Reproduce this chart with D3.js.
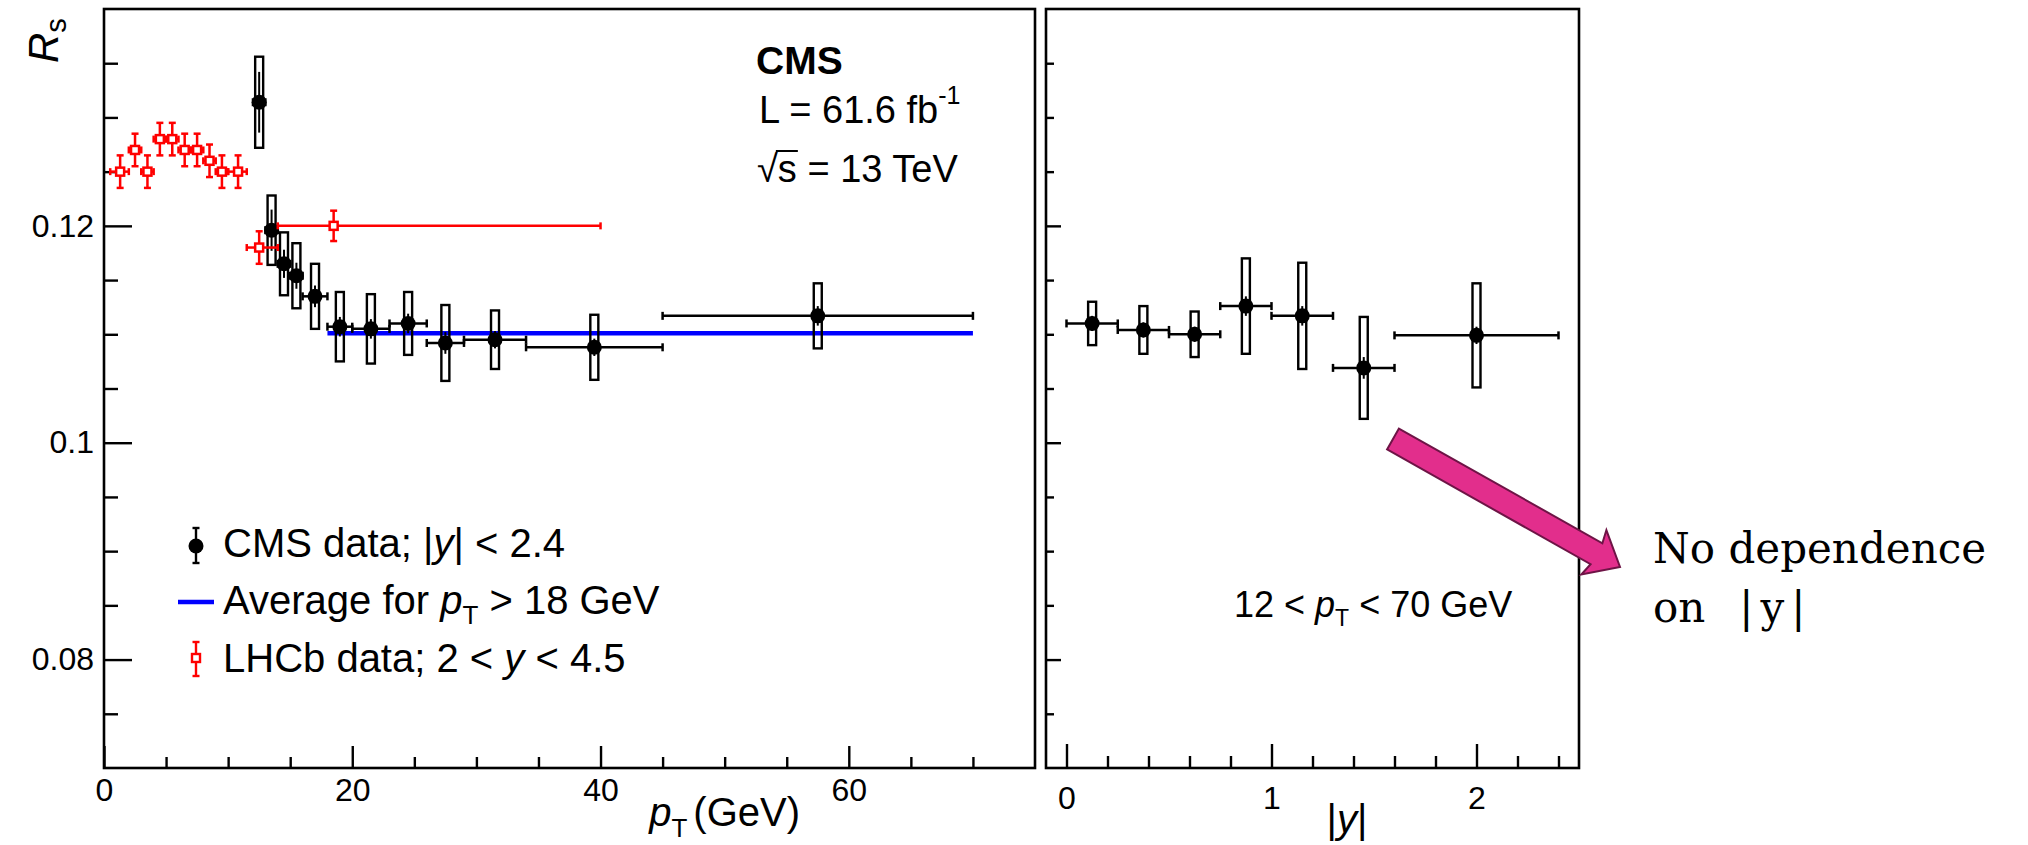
<!DOCTYPE html>
<html>
<head>
<meta charset="utf-8">
<script src="https://cdn.jsdelivr.net/npm/d3@7"></script>
<style>
    body { margin: 0; background: #fff; }
    text { font-family: "Liberation Sans", Arial, Helvetica, sans-serif; fill: #000; }
</style>
</head>
<body>
<div id="chart"></div>
<script>
/* * * * * * * * * * * * * *
*      Rs vs pT and |y|     *
* * * * * * * * * * * * * */

// CMS data vs pT
const cmsPt     = [12.5, 13.5, 14.5, 15.5, 17, 19, 21.5, 24.5, 27.5, 31.5, 39.5, 57.5];
const cmsPtLo   = [12, 13, 14, 15, 16, 18, 20, 23, 26, 29, 34, 45];
const cmsPtHi   = [13, 14, 15, 16, 18, 20, 23, 26, 29, 34, 45, 70];
const cmsPtRs   = [0.1314, 0.1196, 0.1165, 0.1154, 0.1135, 0.1107, 0.1105, 0.1110, 0.1092, 0.1095, 0.1088, 0.1117];
const cmsPtStat = [0.0028, 0.0019, 0.0013, 0.0012, 0.0010, 0.0009, 0.0009, 0.0009, 0.0010, 0.0008, 0.0008, 0.0009];
const cmsPtSyst = [0.0042, 0.0032, 0.0029, 0.0030, 0.0030, 0.0032, 0.0032, 0.0029, 0.0035, 0.0027, 0.0030, 0.0030];

// LHCb data vs pT
const lhcbPt   = [1.3, 2.5, 3.5, 4.5, 5.5, 6.5, 7.5, 8.5, 9.5, 10.8, 12.5, 18.5];
const lhcbPtLo = [0.5, 2, 3, 4, 5, 6, 7, 8, 9, 10, 11.5, 14];
const lhcbPtHi = [2, 3, 4, 5, 6, 7, 8, 9, 10, 11.5, 14, 40];
const lhcbRs   = [0.125, 0.127, 0.125, 0.128, 0.128, 0.127, 0.127, 0.126, 0.125, 0.125, 0.118, 0.120];
const lhcbErr  = [0.0015, 0.0015, 0.0015, 0.0015, 0.0015, 0.0015, 0.0015, 0.0015, 0.0015, 0.0015, 0.0015, 0.0014];

// average for pT > 18 GeV
const avgRs = 0.1101;
const avgPtRange = [18, 70];

// CMS data vs |y|
const cmsY     = [0.125, 0.375, 0.625, 0.875, 1.15, 1.45, 2.0];
const cmsYLo   = [0, 0.25, 0.5, 0.75, 1.0, 1.3, 1.6];
const cmsYHi   = [0.25, 0.5, 0.75, 1.0, 1.3, 1.6, 2.4];
const cmsYRs   = [0.1110, 0.1104, 0.1100, 0.1126, 0.1117, 0.1069, 0.1099];
const cmsYStat = [0.0007, 0.0007, 0.0007, 0.0009, 0.0009, 0.0010, 0.0008];
const cmsYSyst = [0.0020, 0.0022, 0.0021, 0.0044, 0.0049, 0.0047, 0.0048];

// ticks
const yMajor = [0.08, 0.10, 0.12];
const yMajorLabels = ["0.08", "0.1", "0.12"];
const yMinor = [0.075, 0.085, 0.09, 0.095, 0.105, 0.11, 0.115, 0.125, 0.13, 0.135];
const ptMajor = [0, 20, 40, 60];
const ptMinor = [5, 10, 15, 25, 30, 35, 45, 50, 55, 65, 70];
const absYMajor = [0, 1, 2];
const absYMinor = [0.2, 0.4, 0.6, 0.8, 1.2, 1.4, 1.6, 1.8, 2.2, 2.4];

// init drawing area
const svg = d3.select("#chart").append("svg")
    .attr("width", 2028)
    .attr("height", 845);

// scales
const y = d3.scaleLinear().domain([0.07, 0.14]).range([768, 9]);
const xPt = d3.scaleLinear().domain([0, 75]).range([104, 1035]);
const xAbsY = d3.scaleLinear().domain([-0.1, 2.5]).range([1046, 1579]);

const red = "#ff0000", blue = "#0000ff";

// axes for one panel
function drawAxes(x, o) {
    let g = svg.append("g").attr("class", "axes");
    let bottom = y.range()[0], left = x.range()[0];

    let styleAxis = sel => {
        sel.select(".domain").remove();
        sel.selectAll("line").attr("stroke", "#000").attr("stroke-width", 2.4);
        sel.attr("font-family", "Liberation Sans, Arial, sans-serif").attr("font-size", 32);
        sel.selectAll("text").attr("fill", "#000");
    };

    g.append("g").attr("transform", `translate(0,${bottom})`)
        .call(d3.axisBottom(x).tickValues(o.xMinor).tickSize(-o.xMinorLen).tickSizeOuter(0).tickFormat(""))
        .call(styleAxis);
    g.append("g").attr("transform", `translate(0,${bottom})`)
        .call(d3.axisBottom(x).tickValues(o.xMajor).tickSize(-o.xMajorLen).tickSizeOuter(0)
            .tickPadding(o.xPad).tickFormat(d3.format("d")))
        .call(styleAxis);

    g.append("g").attr("transform", `translate(${left},0)`)
        .call(d3.axisLeft(y).tickValues(yMinor).tickSize(-o.yMinorLen).tickSizeOuter(0).tickFormat(""))
        .call(styleAxis);
    g.append("g").attr("transform", `translate(${left},0)`)
        .call(d3.axisLeft(y).tickValues(yMajor).tickSize(-o.yMajorLen).tickSizeOuter(0).tickPadding(10)
            .tickFormat((d, i) => o.yLabels ? yMajorLabels[i] : ""))
        .call(styleAxis);

    // frame
    g.append("rect")
        .attr("x", left).attr("y", y.range()[1])
        .attr("width", x.range()[1] - left)
        .attr("height", bottom - y.range()[1])
        .attr("fill", "none").attr("stroke", "#000").attr("stroke-width", 2.6);
}

drawAxes(xPt, {xMajor: ptMajor, xMinor: ptMinor, xMajorLen: 22, xMinorLen: 11, xPad: 10,
    yMajorLen: 28, yMinorLen: 14, yLabels: true});
drawAxes(xAbsY, {xMajor: absYMajor, xMinor: absYMinor, xMajorLen: 24, xMinorLen: 12, xPad: 18,
    yMajorLen: 15, yMinorLen: 8, yLabels: false});

// CMS points with syst boxes
function drawCms(x, c, lo, hi, v, stat, syst) {
    let g = svg.append("g").attr("class", "cms");
    let pts = c.map((d, i) => ({c: d, lo: lo[i], hi: hi[i], v: v[i], stat: stat[i], syst: syst[i]}));
    let p = g.selectAll("g").data(pts).enter().append("g");

    p.append("rect")
        .attr("x", d => x(d.c) - 4).attr("width", 8)
        .attr("y", d => y(d.v + d.syst))
        .attr("height", d => y(d.v - d.syst) - y(d.v + d.syst))
        .attr("fill", "none").attr("stroke", "#000").attr("stroke-width", 2.4);
    p.append("line")
        .attr("x1", d => x(d.lo)).attr("x2", d => x(d.hi))
        .attr("y1", d => y(d.v)).attr("y2", d => y(d.v))
        .attr("stroke", "#000").attr("stroke-width", 2.5);
    ["lo", "hi"].forEach(k => {
        p.append("line")
            .attr("x1", d => x(d[k])).attr("x2", d => x(d[k]))
            .attr("y1", d => y(d.v) - 4).attr("y2", d => y(d.v) + 4)
            .attr("stroke", "#000").attr("stroke-width", 2.5);
    });
    p.append("line")
        .attr("x1", d => x(d.c)).attr("x2", d => x(d.c))
        .attr("y1", d => y(d.v + d.stat)).attr("y2", d => y(d.v - d.stat))
        .attr("stroke", "#000").attr("stroke-width", 2);
    p.append("circle")
        .attr("cx", d => x(d.c)).attr("cy", d => y(d.v)).attr("r", 7.5)
        .attr("fill", "#000");
}

// average line
svg.append("line")
    .attr("x1", xPt(avgPtRange[0])).attr("x2", xPt(avgPtRange[1]))
    .attr("y1", y(avgRs)).attr("y2", y(avgRs))
    .attr("stroke", blue).attr("stroke-width", 4.5);

drawCms(xPt, cmsPt, cmsPtLo, cmsPtHi, cmsPtRs, cmsPtStat, cmsPtSyst);
drawCms(xAbsY, cmsY, cmsYLo, cmsYHi, cmsYRs, cmsYStat, cmsYSyst);

// LHCb points
let lhcb = svg.append("g").attr("class", "lhcb")
    .selectAll("g")
    .data(lhcbPt.map((d, i) => ({c: d, lo: lhcbPtLo[i], hi: lhcbPtHi[i], v: lhcbRs[i], e: lhcbErr[i]})))
    .enter().append("g")
    .attr("stroke", red).attr("stroke-width", 2.5);

lhcb.append("line")
    .attr("x1", d => xPt(d.lo)).attr("x2", d => xPt(d.hi))
    .attr("y1", d => y(d.v)).attr("y2", d => y(d.v));
lhcb.append("line")
    .attr("x1", d => xPt(d.c)).attr("x2", d => xPt(d.c))
    .attr("y1", d => y(d.v + d.e)).attr("y2", d => y(d.v - d.e));
["lo", "hi"].forEach(k => {
    lhcb.append("line")
        .attr("x1", d => xPt(d[k])).attr("x2", d => xPt(d[k]))
        .attr("y1", d => y(d.v) - 3.5).attr("y2", d => y(d.v) + 3.5);
});
[1, -1].forEach(s => {
    lhcb.append("line")
        .attr("x1", d => xPt(d.c) - 3.5).attr("x2", d => xPt(d.c) + 3.5)
        .attr("y1", d => y(d.v + s * d.e)).attr("y2", d => y(d.v + s * d.e));
});
lhcb.append("rect")
    .attr("x", d => xPt(d.c) - 4).attr("y", d => y(d.v) - 4)
    .attr("width", 8).attr("height", 8)
    .attr("fill", "#fff");

// axis titles
let rs = svg.append("text")
    .attr("transform", "translate(58,63) rotate(-90)")
    .attr("font-size", 42);
rs.append("tspan").attr("font-style", "italic").text("R");
rs.append("tspan").attr("font-size", 29).attr("dy", 8).text("s");

let xt = svg.append("text")
    .attr("x", 800).attr("y", 826)
    .attr("text-anchor", "end")
    .attr("font-size", 40);
xt.append("tspan").attr("font-style", "italic").text("p");
xt.append("tspan").attr("font-size", 26).attr("dy", 11).text("T");
xt.append("tspan").attr("dy", -11).attr("dx", 6).text("(GeV)");

let yt = svg.append("text")
    .attr("x", 1347).attr("y", 833)
    .attr("text-anchor", "middle")
    .attr("font-size", 40);
yt.append("tspan").text("|");
yt.append("tspan").attr("font-style", "italic").text("y");
yt.append("tspan").text("|");

// CMS label block
svg.append("text").attr("x", 756).attr("y", 74)
    .attr("font-size", 39).attr("font-weight", "bold").text("CMS");
let lumi = svg.append("text").attr("x", 759).attr("y", 123).attr("font-size", 38);
lumi.append("tspan").text("L = 61.6 fb");
lumi.append("tspan").attr("font-size", 25).attr("dy", -19).text("-1");

let sq = svg.append("text").attr("x", 757).attr("y", 182).attr("font-size", 38);
sq.append("tspan").text("\u221As = 13 TeV");
let sBox = sq.node().getExtentOfChar(1);
let rootBox = sq.node().getExtentOfChar(0);
svg.append("line")
    .attr("x1", rootBox.x + rootBox.width - 2).attr("x2", sBox.x + sBox.width + 1)
    .attr("y1", rootBox.y + 3).attr("y2", rootBox.y + 3)
    .attr("stroke", "#000").attr("stroke-width", 2);

// legend
let legend = svg.append("g").attr("class", "legend");

legend.append("line")
    .attr("x1", 196).attr("x2", 196).attr("y1", 528).attr("y2", 563)
    .attr("stroke", "#000").attr("stroke-width", 2.4);
[528, 563].forEach(v => legend.append("line")
    .attr("x1", 192.5).attr("x2", 199.5).attr("y1", v).attr("y2", v)
    .attr("stroke", "#000").attr("stroke-width", 2.4));
legend.append("circle").attr("cx", 196).attr("cy", 546).attr("r", 7.5).attr("fill", "#000");

let t1 = legend.append("text").attr("x", 223).attr("y", 557).attr("font-size", 40);
t1.append("tspan").text("CMS data; |");
t1.append("tspan").attr("font-style", "italic").text("y");
t1.append("tspan").text("| < 2.4");

legend.append("line")
    .attr("x1", 178).attr("x2", 214).attr("y1", 602).attr("y2", 602)
    .attr("stroke", blue).attr("stroke-width", 4.5);
let t2 = legend.append("text").attr("x", 223).attr("y", 614).attr("font-size", 40);
t2.append("tspan").text("Average for ");
t2.append("tspan").attr("font-style", "italic").text("p");
t2.append("tspan").attr("font-size", 26).attr("dy", 10).text("T");
t2.append("tspan").attr("dy", -10).text(" > 18 GeV");

legend.append("line")
    .attr("x1", 196).attr("x2", 196).attr("y1", 642).attr("y2", 676)
    .attr("stroke", red).attr("stroke-width", 2.4);
[642, 676].forEach(v => legend.append("line")
    .attr("x1", 192.5).attr("x2", 199.5).attr("y1", v).attr("y2", v)
    .attr("stroke", red).attr("stroke-width", 2.4));
legend.append("rect").attr("x", 192).attr("y", 654).attr("width", 8).attr("height", 8)
    .attr("fill", "#fff").attr("stroke", red).attr("stroke-width", 2.4);
let t3 = legend.append("text").attr("x", 223).attr("y", 672).attr("font-size", 40);
t3.append("tspan").text("LHCb data; 2 < ");
t3.append("tspan").attr("font-style", "italic").text("y");
t3.append("tspan").text(" < 4.5");

// pT range note in right panel
let note = svg.append("text").attr("x", 1234).attr("y", 617).attr("font-size", 36);
note.append("tspan").text("12 < ");
note.append("tspan").attr("font-style", "italic").text("p");
note.append("tspan").attr("font-size", 23).attr("dy", 9).text("T");
note.append("tspan").attr("dy", -9).text(" < 70 GeV");

// annotation arrow
let tail = [1393, 439], tip = [1620, 567];
let len = Math.hypot(tip[0] - tail[0], tip[1] - tail[1]);
let u = [(tip[0] - tail[0]) / len, (tip[1] - tail[1]) / len];
let n = [-u[1], u[0]];
let shaftW = 12, headW = 25.5, headL = 27;
let at = (along, side) => [tail[0] + u[0] * along + n[0] * side, tail[1] + u[1] * along + n[1] * side];
let arrowPts = [
    at(0, -shaftW), at(len - headL, -shaftW), at(len - headL - 3, -headW), at(len, 0),
    at(len - headL - 3, headW), at(len - headL, shaftW), at(0, shaftW)
];
svg.append("path")
    .attr("d", d3.line()(arrowPts) + "Z")
    .attr("fill", "#e22e8c")
    .attr("stroke", "#6e1446")
    .attr("stroke-width", 2)
    .attr("stroke-linejoin", "miter");

let ann = svg.append("g")
    .attr("font-size", 42);
ann.append("text").attr("x", 1653).attr("y", 563)
    .style("font-family", "'DejaVu Serif', 'Liberation Serif', serif")
    .text("No dependence");
let on = ann.append("text").attr("x", 1653).attr("y", 622)
    .style("font-family", "'DejaVu Serif', 'Liberation Serif', serif");
on.append("tspan").text("on");
on.append("tspan").attr("dx", 34).text("|");
on.append("tspan").attr("dx", 7).text("y");
on.append("tspan").attr("dx", 7).text("|");
</script>
</body>
</html>
